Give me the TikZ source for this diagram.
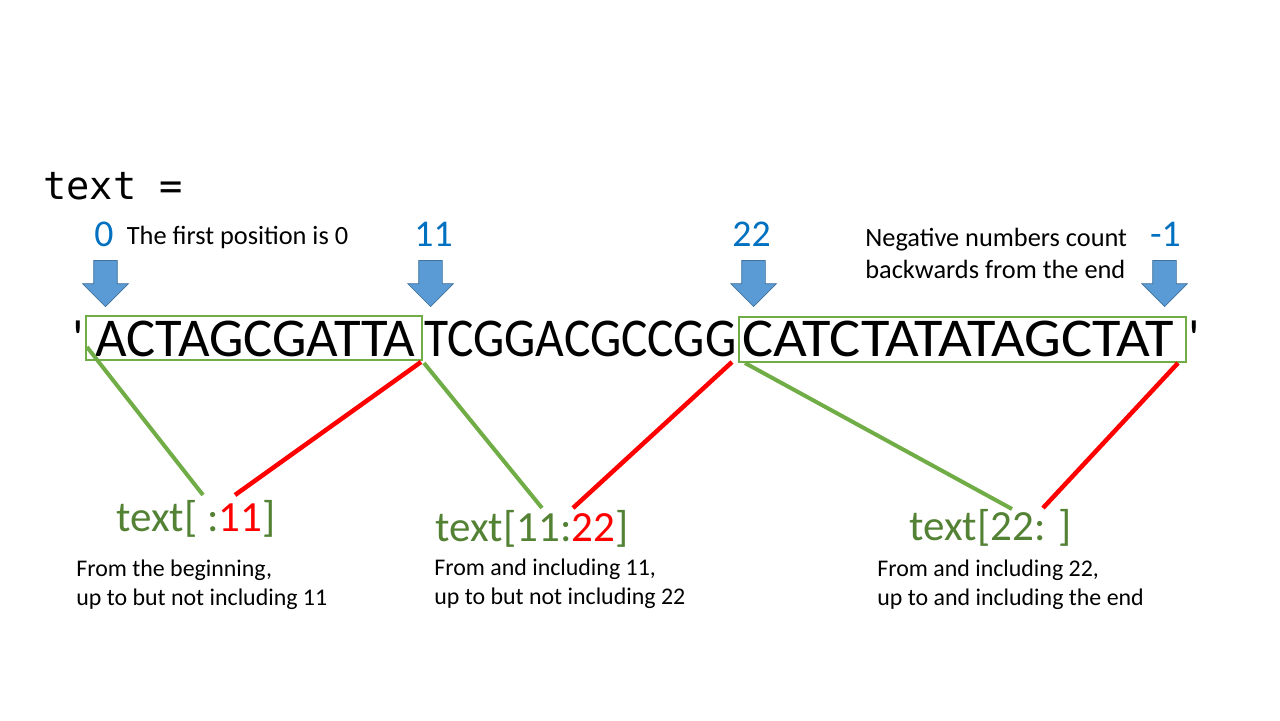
\documentclass[tikz,border=0pt]{standalone}
\usepackage{fontspec}
\setmainfont{Carlito}
\setmonofont{DejaVu Sans Mono}
\newfontfamily\seqfont{Carlito}[Ligatures=TeXOff]
\usetikzlibrary{shapes.arrows}
\definecolor{numblue}{HTML}{0070C0}
\definecolor{arrowblue}{HTML}{5B9BD5}
\definecolor{arrowedge}{HTML}{41719C}
\definecolor{boxgreen}{HTML}{70AD47}
\definecolor{labelgreen}{HTML}{548235}
\definecolor{cutred}{HTML}{FF0000}
\begin{document}
\begin{tikzpicture}[x=0.02cm, y=-0.02cm,
    posnum/.style = {text=numblue, inner sep=0pt, font=\fontsize{21.5}{26}\selectfont},
    note/.style = {inner sep=0pt, align=left, font=\fontsize{15}{18.1}\selectfont},
    desc/.style = {inner sep=0pt, align=left, font=\fontsize{13.6}{16.2}\selectfont},
    slice/.style = {text=labelgreen, inner sep=0pt, font=\fontsize{24.5}{29}\selectfont},
    seqpart/.style = {inner sep=0pt, anchor=base west, font=\fontsize{30}{36}\seqfont},
    seqbox/.style = {draw=boxgreen, line width=0.04cm, inner sep=0pt},
    downarrow/.style = {single arrow, rotate=-90, anchor=tip, draw=arrowedge, line width=0.4pt,
        fill=arrowblue, inner sep=0pt, inner ysep=0.23cm, minimum height=0.92cm,
        minimum width=0.9cm, single arrow head extend=0.22cm, single arrow tip angle=90},
    greenline/.style = {draw=boxgreen, line width=0.08cm},
    redline/.style = {draw=cutred, line width=0.09cm}]
    \useasboundingbox (0,0) rectangle (1280,720);

    % variable name
    \node[anchor=base west, inner sep=0pt, font=\ttfamily\fontsize{22}{26}\selectfont]
        (varname) at (43,199) {text =};

    % positions and their arrows
    \node[posnum, anchor=base] (num0)  at (104,246)    {0};
    \node[posnum, anchor=base] (num11) at (433.5,246)  {11};
    \node[posnum, anchor=base] (num22) at (751.5,246)  {22};
    \node[posnum, anchor=base] (numend) at (1165.5,246) {-1};
    \node[note, anchor=base west] (firstnote) at (126.5,244.5) {The first position is 0};
    \node[note, anchor=base west] (negnote) at (865,278)
        {Negative numbers count\\backwards from the end};

    \node[downarrow] (arr0)  at (105.5,307)  {};
    \node[downarrow] (arr11) at (430.5,307)  {};
    \node[downarrow] (arr22) at (753.5,307)  {};
    \node[downarrow] (arrend) at (1164.5,307) {};

    % the string
    \node[seqpart, anchor=base east] (openq) at (84,356) {'};
    \node[seqpart] (part1) at (95,356)  {\resizebox{6.4cm}{0.71cm}{ACTAGCGATTA}};
    \node[seqpart] (part2) at (424,356) {\resizebox{6.24cm}{0.71cm}{TCGGACGCCGG}};
    \node[seqpart] (part3) at (742,356) {\resizebox{8.64cm}{0.71cm}{CATCTATATAGCTAT}};
    \node[seqpart] (closeq) at (1188,356) {'};

    \node[seqbox, minimum width=6.72cm, minimum height=0.88cm] (box1) at (254,338) {};
    \node[seqbox, minimum width=8.94cm, minimum height=0.9cm] (box3) at (962.5,339.5) {};

    % slices
    \node[slice, anchor=base west] (slice1) at (116,531) {text[ :\textcolor{cutred}{11}]};
    \node[slice, anchor=base west] (slice2) at (435,541) {text[11:\textcolor{cutred}{22}]};
    \node[slice, anchor=base west] (slice3) at (909,540) {text[22: ]};

    \node[desc, anchor=base west] (desc1) at (76,605)
        {From the beginning,\\up to but not including 11};
    \node[desc, anchor=base west] (desc2) at (434,604)
        {From and including 11,\\up to but not including 22};
    \node[desc, anchor=base west] (desc3) at (877,605)
        {From and including 22,\\up to and including the end};

    % connectors
    \coordinate (g1top) at (87,347);
    \coordinate (g1end) at (203,495);
    \coordinate (r1top) at (421,362);
    \coordinate (r1end) at (235,495);
    \coordinate (g2top) at (424,363);
    \coordinate (g2end) at (542,508);
    \coordinate (r2top) at (732,362);
    \coordinate (r2end) at (573,508);
    \coordinate (g3top) at (745,363);
    \coordinate (g3end) at (1012,509);
    \coordinate (r3top) at (1178,363);
    \coordinate (r3end) at (1043,508);

    \draw[greenline] (g1top) -- (g1end);
    \draw[redline] (r1top) -- (r1end);
    \draw[greenline] (g2top) -- (g2end);
    \draw[redline] (r2top) -- (r2end);
    \draw[greenline] (g3top) -- (g3end);
    \draw[redline] (r3top) -- (r3end);
\end{tikzpicture}
\end{document}
